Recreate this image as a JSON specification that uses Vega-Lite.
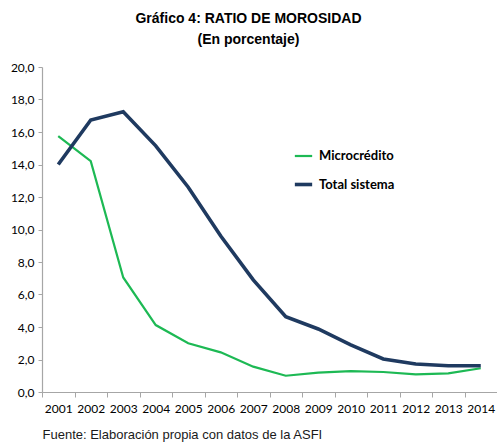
{
  "$schema": "https://vega.github.io/schema/vega-lite/v6.json",
  "width": 455,
  "height": 325,
  "autosize": {"type": "none"},
  "padding": {"left": 42, "top": 67, "right": 0, "bottom": 55},
  "background": "white",
  "config": {
    "locale": {"number": {"decimal": ",", "thousands": ".", "grouping": [3], "currency": ["", ""]}},
    "view": {"stroke": null},
    "font": "Liberation Sans"
  },
  "title": {
    "text": ["Gráfico 4: RATIO DE MOROSIDAD", "(En porcentaje)"],
    "font": "Liberation Sans",
    "fontSize": 14,
    "fontWeight": "bold",
    "color": "#000000",
    "lineHeight": 21,
    "anchor": "middle",
    "dx": -21,
    "offset": 14
  },
  "data": {
    "values": [
      {"year": "2001", "serie": "Microcrédito", "valor": 15.75},
      {"year": "2002", "serie": "Microcrédito", "valor": 14.2},
      {"year": "2003", "serie": "Microcrédito", "valor": 7.05},
      {"year": "2004", "serie": "Microcrédito", "valor": 4.12},
      {"year": "2005", "serie": "Microcrédito", "valor": 3.0},
      {"year": "2006", "serie": "Microcrédito", "valor": 2.44},
      {"year": "2007", "serie": "Microcrédito", "valor": 1.56},
      {"year": "2008", "serie": "Microcrédito", "valor": 1.0},
      {"year": "2009", "serie": "Microcrédito", "valor": 1.19},
      {"year": "2010", "serie": "Microcrédito", "valor": 1.29},
      {"year": "2011", "serie": "Microcrédito", "valor": 1.23},
      {"year": "2012", "serie": "Microcrédito", "valor": 1.09},
      {"year": "2013", "serie": "Microcrédito", "valor": 1.15},
      {"year": "2014", "serie": "Microcrédito", "valor": 1.46},
      {"year": "2001", "serie": "Total sistema", "valor": 14.0},
      {"year": "2002", "serie": "Total sistema", "valor": 16.74},
      {"year": "2003", "serie": "Total sistema", "valor": 17.25},
      {"year": "2004", "serie": "Total sistema", "valor": 15.15},
      {"year": "2005", "serie": "Total sistema", "valor": 12.6},
      {"year": "2006", "serie": "Total sistema", "valor": 9.6},
      {"year": "2007", "serie": "Total sistema", "valor": 6.9},
      {"year": "2008", "serie": "Total sistema", "valor": 4.63},
      {"year": "2009", "serie": "Total sistema", "valor": 3.88},
      {"year": "2010", "serie": "Total sistema", "valor": 2.9},
      {"year": "2011", "serie": "Total sistema", "valor": 2.03},
      {"year": "2012", "serie": "Total sistema", "valor": 1.72},
      {"year": "2013", "serie": "Total sistema", "valor": 1.62},
      {"year": "2014", "serie": "Total sistema", "valor": 1.62}
    ]
  },
  "mark": {"type": "line", "interpolate": "linear"},
  "encoding": {
    "x": {
      "field": "year",
      "type": "ordinal",
      "bandPosition": 0.5,
      "scale": {"type": "band", "paddingInner": 0, "paddingOuter": 0},
      "axis": {
        "title": "Fuente: Elaboración propia con datos de la ASFI",
        "titleFont": "Liberation Sans",
        "titleFontSize": 13,
        "titleFontWeight": "normal",
        "titleColor": "#1a1a1a",
        "titleAnchor": "start",
        "titleAlign": "left",
        "titlePadding": 14,
        "labelFont": "Lato",
        "labelAngle": 0,
        "labelFontSize": 12,
        "labelColor": "#000000",
        "labelPadding": 6,
        "tickBand": "extent",
        "tickColor": "#a6a6a6",
        "tickSize": 5,
        "domainColor": "#a6a6a6",
        "domainWidth": 1.2,
        "grid": false
      }
    },
    "y": {
      "field": "valor",
      "type": "quantitative",
      "scale": {"domain": [0, 20]},
      "axis": {
        "title": null,
        "values": [0, 2, 4, 6, 8, 10, 12, 14, 16, 18, 20],
        "format": ".1f",
        "labelFont": "Lato",
        "labelFontSize": 12,
        "labelColor": "#000000",
        "labelPadding": 4,
        "tickColor": "#a6a6a6",
        "tickSize": 4,
        "domainColor": "#a6a6a6",
        "domainWidth": 1.2,
        "grid": false
      }
    },
    "color": {
      "field": "serie",
      "type": "nominal",
      "scale": {"domain": ["Microcrédito", "Total sistema"], "range": ["#1DB954", "#1F3A60"]},
      "legend": {
        "title": null,
        "orient": "none",
        "legendX": 251,
        "legendY": 79,
        "symbolType": "stroke",
        "symbolSize": 300,
        "symbolStrokeWidth": 3,
        "labelFont": "Lato",
        "labelFontSize": 13,
        "labelFontWeight": "bold",
        "labelColor": "#000000",
        "rowPadding": 11,
        "labelOffset": 5
      }
    },
    "strokeWidth": {
      "field": "serie",
      "type": "nominal",
      "scale": {"domain": ["Microcrédito", "Total sistema"], "range": [2.2, 3.6]},
      "legend": null
    }
  }
}
